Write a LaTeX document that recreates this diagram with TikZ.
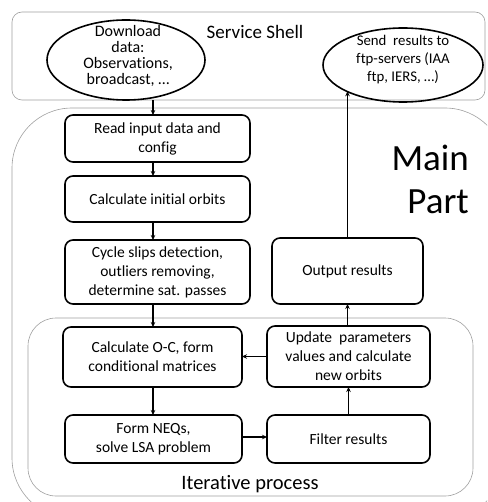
\documentclass[tikz,border=0pt]{standalone}
\usepackage{fontspec}
\setmainfont{Carlito}[Ligatures={NoCommon}]
\usetikzlibrary{shapes.geometric,arrows.meta}
\begin{document}
\begin{tikzpicture}[x=1pt,y=-1pt,
 box/.style={draw, line width=1.6pt, rounded corners=8pt, align=center,
   font=\fontsize{15.5}{19}\selectfont, inner sep=0pt, outer sep=0pt},
 oval/.style={draw, line width=1.6pt, ellipse, inner sep=0pt, outer sep=0pt},
 txt/.style={align=center, inner sep=0pt},
 arr/.style={line width=1.2pt, -{Stealth[length=5pt,width=4.5pt]}},
 cont/.style={draw=gray!75, line width=0.6pt}]
\useasboundingbox (0,0) rectangle (487,502);
\begin{scope}
\clip (0,0) rectangle (487,502);
\draw[cont, rounded corners=10pt] (12,12) rectangle (485,100);
\draw[cont, rounded corners=60pt] (12,108) rectangle (505,518);
\draw[cont, rounded corners=28pt] (28,318) rectangle (473,496);
\end{scope}

% labels of containers
\node[font=\fontsize{19}{22}\selectfont, inner sep=0pt] (shell) at (255,32) {Service Shell};
\node[font=\fontsize{37}{43}\selectfont, align=right, anchor=east, inner sep=0pt] (main) at (469,179) {Main\\Part};
\node[font=\fontsize{20.5}{24}\selectfont, inner sep=0pt] (iter) at (250,484) {Iterative process};

% ellipses
\node[oval, minimum width=158pt, minimum height=80pt] (dl) at (126,60) {};
\node[txt, font=\fontsize{16}{16}\selectfont] (dltxt) at (128,56) {Download\\data:\\Observations,\\broadcast, \dots};
\node[oval, minimum width=160pt, minimum height=74pt] (send) at (403,65) {};
\node[txt, font=\fontsize{14.8}{18}\selectfont] (sendtxt) at (403,60) {Send\ \ results to\\ftp-servers (IAA\\ftp, IERS, \dots)};

% main boxes
\node[box, minimum width=185pt, minimum height=47pt] (read) at (157.5,138.5) {Read input data and\\config};
\node[box, minimum width=185pt, minimum height=46pt] (init) at (157.5,199) {Calculate initial orbits};
\node[box, minimum width=185pt, minimum height=64pt] (cycle) at (157.5,272) {Cycle slips detection,\\outliers removing,\\determine sat. passes};
\node[box, minimum width=151pt, minimum height=66pt] (output) at (347.5,271) {Output results};

% iterative boxes
\node[box, minimum width=179pt, minimum height=60pt] (oc) at (152.5,357) {Calculate O-C, form\\conditional matrices};
\node[box, minimum width=163pt, minimum height=61pt] (update) at (348.5,356.5) {Update\ \ parameters\\values and calculate\\new orbits};
\node[box, minimum width=177pt, minimum height=48pt] (neq) at (153.5,439) {Form NEQs,\\solve LSA problem};
\node[box, minimum width=163pt, minimum height=48pt] (filter) at (348.5,439) {Filter results};

% connectors
\coordinate (colL) at (153,100);
\draw[arr] (colL) -- (read.north -| colL);
\draw[arr] (read.south -| colL) -- (init.north -| colL);
\draw[arr] (init.south -| colL) -- (cycle.north -| colL);
\draw[arr] (cycle.south -| colL) -- (oc.north -| colL);
\draw[arr] (oc.south -| colL) -- (neq.north -| colL);
\draw[arr] (neq.east |- 0,437) -- (filter.west |- 0,437);
\draw[arr] (filter.north) -- (update.south);
\draw[arr] (update.west) -- (oc.east |- update.west);
\draw[arr] (update.north -| output.south) -- (output.south);
\draw[arr] (output.north) -- (output.north |- send.205);
\end{tikzpicture}
\end{document}
